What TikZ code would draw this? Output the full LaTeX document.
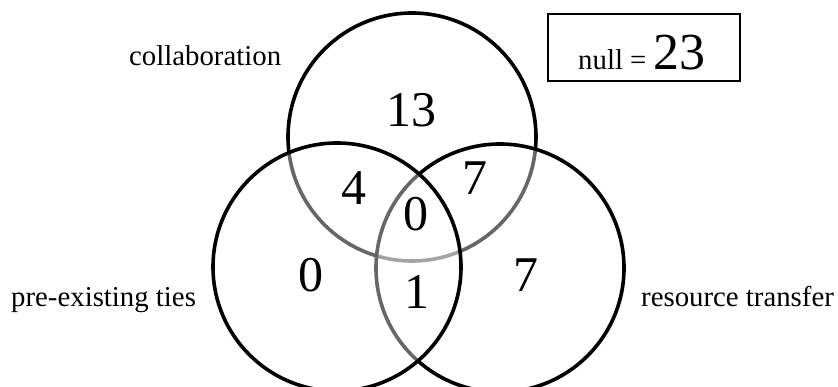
\documentclass[tikz,border=0pt]{standalone}
\usepackage{fontspec}
\setmainfont{Liberation Serif}
\begin{document}
\begin{tikzpicture}[x=1pt,y=-1pt,
  venn/.style={circle, draw=black, line width=3.6pt, minimum size=248pt, inner sep=0pt},
  vennfill/.style={venn, fill=white, fill opacity=0.4},
  lbl/.style={inner sep=0pt, anchor=base west, font=\fontsize{28.8}{34}\selectfont},
  num/.style={inner sep=0pt, font=\fontsize{50}{60}\selectfont}]
\useasboundingbox (0,0) rectangle (838,387);
\clip (0,0) rectangle (838,387);
\fill[white] (0,0) rectangle (838,387);
% circles
\node[venn] (T) at (412,137) {};
\node[vennfill] (R) at (500,268) {};
\node[vennfill] (L) at (337,267) {};
% labels
\node[lbl] (lc) at (129,66) {collaboration};
\node[lbl] (lp) at (11,307) {pre-existing ties};
\node[lbl] (lr) at (641,307) {resource transfer};
% counts
\node[num] (n13) at (411,110) {13};
\node[num] (n4) at (354,188) {4};
\node[num] (n7a) at (475,178) {7};
\node[num] (n0c) at (416,214) {0};
\node[num] (n0l) at (311,275) {0};
\node[num] (n1) at (417,292) {1};
\node[num] (n7r) at (526,275) {7};
% null box
\node[draw=black, line width=2.6pt, minimum width=192pt, minimum height=67pt, inner sep=0pt] (nullbox) at (644,47.5) {};
\node[inner sep=0pt, anchor=base west] (nulltxt) at (578,70) {{\fontsize{28.8}{34}\selectfont null = }{\fontsize{52}{60}\selectfont 23}};
\end{tikzpicture}
\end{document}
